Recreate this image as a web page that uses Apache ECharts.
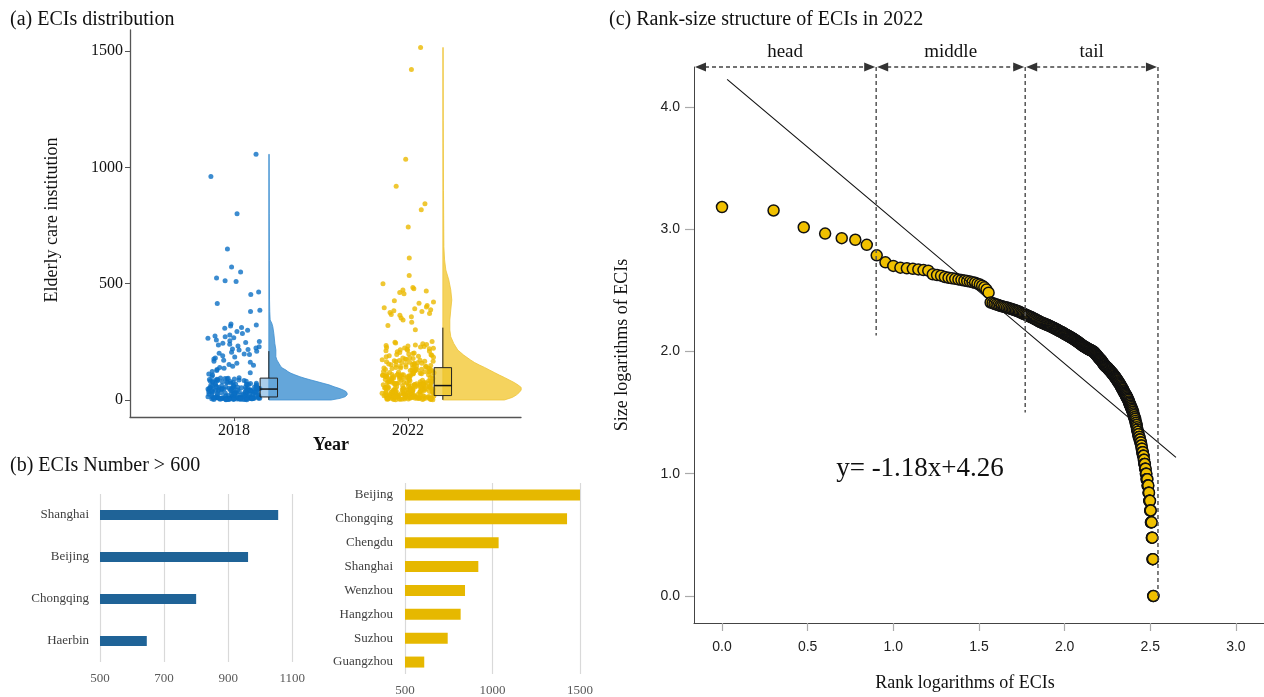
<!DOCTYPE html>
<html><head><meta charset="utf-8">
<script src="https://cdn.jsdelivr.net/npm/echarts@6/dist/echarts.min.js"></script>
<style>html,body{margin:0;padding:0;background:#fff}#c{width:1264px;height:697px}</style>
</head><body><div id="c"></div>
<script>
// ---------------- data ----------------
const years = ['2018', '2022'];
const values2018 = [1056,961,801,649,572,550,524,513,509,464,453,415,386,380,
 327,322,318,312,308,300,294,286,279,275,272,268,265,258,255,251,247,244,240,236,232,229,224,219,217,215,210,205,201,198,
 196,190,185,180,176,171,166,162,158,153,149,145,140,136,131,127,122,117,112,107,101,96,
 94,93,92,91,90,89,88,87,86,85,84,83,82,81,80,79,78,77,76,75,74,73,72,71,70,69,68,67,66,65,64,63,62,61,60,59,58,57,
 56,56,55,55,54,54,53,53,52,52,51,51,50,50,49,49,48,48,48,47,47,47,
 46,46,45,45,44,44,43,43,42,42,41,41,40,40,39,39,38,38,37,37,36,36,35,35,34,34,33,33,32,32,31,31,30,30,29,29,28,28,27,27,26,26,25,25,
 24,23,22,22,21,20,19,19,18,17,16,16,15,14,14,13,
 13,13,12,12,12,12,11,11,11,11,10,10,10,10,10,9,9,9,9,9,8,8,8,8,8,8,7,7,7,7,7,7,6,6,6,6,6,6,5,5,5,5,5,5,4,4,4,4,4,3,3,3,3,3,2,2,2,2,1,1];
const values2022 = [1515,1420,1035,919,843,818,744,610,535,500,484,478,473,468,462,457,427,421,416,406,
 400,396,392,388,384,380,376,372,368,364,358,352,344,334,320,302,
 251,248,245,242,239,236,234,232,230,228,226,224,222,220,218,216,214,212,209,207,204,202,200,198,
 196,194,192,190,188,186,184,182,180,178,176,174,173,171,170,
 169,167,166,165,164,162,161,160,158,157,156,155,153,152,151,150,148,147,146,145,144,143,142,140,139,138,137,136,
 135,134,133,132,131,130,129,128,127,126,125,124,123,122,121,120,119,118,117,116,115,114,113,112,111,110,
 110,109,108,108,107,106,106,105,104,104,103,103,102,102,101,101,100,100,
 99,98,97,96,95,94,93,92,91,90,89,88,87,86,86,85,84,83,82,81,80,79,78,77,77,76,75,75,74,74,73,73,72,
 71,71,70,70,69,68,68,67,67,66,65,65,64,64,63,62,62,61,61,60,59,59,58,58,57,56,56,55,55,54,53,53,52,52,51,50,50,49,49,48,47,47,46,46,45,45,44,44,43,43,
 42,42,41,41,40,40,39,38,38,37,37,36,36,35,35,34,34,33,33,32,32,31,
 30,30,29,29,28,28,27,26,26,25,25,24,23,23,22,22,21,
 21,20,20,20,19,19,19,18,18,18,17,17,16,
 16,15,15,15,14,14,14,13,13,12,12,12,11,11,11,10,10,
 10,9,9,9,9,8,8,8,8,7,7,7,6,6,6,6,5,5,5,4,4,4,4,3,3,3,2,2,2,1,1];
const boxQ1 = [13, 19];
const boxMedian = [47, 62];
const boxQ3 = [94, 139];
const whiskerHigh = [210, 311];
const whiskerLow = [1, 1];
const violinY2018 = [0,7,14,22,29,36,43,50,57,65,72,79,86,93,100,108,115,122,129,136,143,158,172,186,215,243,286,315,330,344,380,430,600,800,1056];
const violinD2018 = [0.795,0.910,0.974,1,1,0.987,0.949,0.897,0.833,0.769,0.692,0.615,0.538,0.462,0.397,0.333,0.282,0.244,0.218,0.179,0.154,0.128,0.103,0.090,0.090,0.077,0.064,0.051,0.038,0.017,0.012,0.009,0.008,0.006,0.005];
const violinY2022 = [0,11,21,32,43,54,64,75,86,97,107,118,129,140,150,161,172,193,215,243,272,301,344,387,430,473,516,559,602,659,900,1200,1515];
const violinD2022 = [0.785,0.886,0.937,0.975,1,1,0.962,0.911,0.848,0.785,0.722,0.658,0.595,0.532,0.468,0.405,0.354,0.266,0.190,0.139,0.101,0.089,0.089,0.101,0.114,0.101,0.076,0.038,0.022,0.013,0.008,0.005,0.004];
const cities2018 = ['Shanghai', 'Beijing', 'Chongqing', 'Haerbin'];
const counts2018 = [1056, 962, 800, 646];
const cities2022 = ['Beijing', 'Chongqing', 'Chengdu', 'Shanghai', 'Wenzhou', 'Hangzhou', 'Suzhou', 'Guangzhou'];
const counts2022 = [1524, 1426, 1035, 919, 843, 818, 744, 610];
const ticksA = [0, 500, 1000, 1500];
const ticksCx = [0, 0.5, 1, 1.5, 2, 2.5, 3];
const ticksCy = [0, 1, 2, 3, 4];
const fitSlope = -1.18, fitIntercept = 4.26;
const fitXRange = [0.03, 2.65];
const segmentNames = ['head', 'middle', 'tail'];
const segmentEdges = [0.9, 1.77, 2.545];
const dividerBottoms = [2.13, 1.50, -0.03];

// ---------------- layout / style ----------------
const SERIF = "'Liberation Serif','Times New Roman',serif";
const SANS = "'Liberation Sans',Arial,sans-serif";
const xCenters = [1, 2];
const sideOffset = 0.2, jitterHalf = 0.15, violinWidth = 0.45, boxHalf = 0.05;
const xMinA = 0.4023, xMaxA = 2.649, yMinA = -73.1, yMaxA = 1590.3;
const xMinC = -0.1635, xMaxC = 3.164, yMinC = -0.2208, yMaxC = 4.3254;
const stripColors = ['#0b6fc4', '#ebb900'];
const violinFills = ['#64a6da', '#f5d35e'];
const violinStrokes = ['#3f8fd0', '#eec43a'];
const boxFills = ['rgba(100,166,218,0.55)', 'rgba(238,196,40,0.7)'];

// horizontal jitter position only (deterministic hash), values stay as read
function jitter(i, k) {
  const s = Math.sin((i + 1) * 12.9898 + k * 78.233) * 43758.5453;
  return s - Math.floor(s);
}
function stripData(vals, k) {
  return vals.map((v, i) => [xCenters[k] + (jitter(i, k) - 0.5) * 2 * jitterHalf, v]);
}
function violinSeries(yArr, dArr, k) {
  return {
    type: 'custom', xAxisIndex: 0, yAxisIndex: 0, z: 3, silent: true,
    data: [[xCenters[k], 0]],
    renderItem(params, api) {
      const base = xCenters[k] + sideOffset;
      const pts = yArr.map((y, i) => api.coord([base + dArr[i] * violinWidth, y]));
      pts.push(api.coord([base, yArr[yArr.length - 1]]));
      pts.push(api.coord([base, yArr[0]]));
      return { type: 'polygon', shape: { points: pts }, style: { fill: violinFills[k], stroke: violinStrokes[k], lineWidth: 0.8 } };
    }
  };
}
const plain = v => String(v);

const chart = echarts.init(document.getElementById('c'), null, { renderer: 'canvas' });
const axisLineDark = { show: true, onZero: false, lineStyle: { color: '#555', width: 1.3 } };

chart.setOption({
  animation: false,
  backgroundColor: '#fff',
  grid: [
    { left: 130, top: 30, width: 391, height: 387 },
    { left: 100, top: 494, width: 192.3, height: 168 },
    { left: 405, top: 483, width: 175, height: 192 },
    { left: 694, top: 67, width: 570, height: 556 }
  ],
  xAxis: [
    { gridIndex: 0, type: 'value', min: xMinA, max: xMaxA, axisLine: axisLineDark,
      axisTick: { show: true, length: 4, customValues: xCenters, lineStyle: { color: '#555' } },
      axisLabel: { customValues: xCenters, formatter: v => years[xCenters.indexOf(v)], fontFamily: SERIF, fontSize: 16, color: '#111', margin: 6 },
      splitLine: { show: false } },
    { gridIndex: 1, type: 'value', min: 500, max: 1100, interval: 200,
      axisLine: { show: false, onZero: false }, axisTick: { show: false },
      axisLabel: { formatter: plain, fontFamily: SERIF, fontSize: 13, color: '#595959', margin: 10 },
      splitLine: { show: true, lineStyle: { color: '#d9d9d9', width: 1.2 } } },
    { gridIndex: 2, type: 'value', min: 500, max: 1500, interval: 500,
      axisLine: { show: false, onZero: false }, axisTick: { show: false },
      axisLabel: { formatter: plain, fontFamily: SERIF, fontSize: 13, color: '#595959', margin: 10 },
      splitLine: { show: true, lineStyle: { color: '#d9d9d9', width: 1.2 } } },
    { gridIndex: 3, type: 'value', min: xMinC, max: xMaxC,
      axisLine: { show: true, onZero: false, lineStyle: { color: '#444', width: 1 } },
      axisTick: { show: true, length: 8, customValues: ticksCx, lineStyle: { color: '#aaa', width: 1.2 } },
      axisLabel: { customValues: ticksCx, formatter: v => v.toFixed(1), fontFamily: SANS, fontSize: 14, color: '#222', margin: 17 },
      splitLine: { show: false } }
  ],
  yAxis: [
    { gridIndex: 0, type: 'value', min: yMinA, max: yMaxA, axisLine: axisLineDark,
      axisTick: { show: true, length: 5, customValues: ticksA, lineStyle: { color: '#555' } },
      axisLabel: { customValues: ticksA, formatter: plain, fontFamily: SERIF, fontSize: 16, color: '#111', margin: 7 },
      splitLine: { show: false } },
    { gridIndex: 1, type: 'category', data: cities2018, inverse: true,
      axisLine: { show: false, onZero: false }, axisTick: { show: false },
      axisLabel: { fontFamily: SERIF, fontSize: 13, color: '#404040', margin: 11 } },
    { gridIndex: 2, type: 'category', data: cities2022, inverse: true,
      axisLine: { show: false, onZero: false }, axisTick: { show: false },
      axisLabel: { fontFamily: SERIF, fontSize: 13, color: '#404040', margin: 12 } },
    { gridIndex: 3, type: 'value', min: yMinC, max: yMaxC,
      axisLine: { show: true, onZero: false, lineStyle: { color: '#444', width: 1 } },
      axisTick: { show: true, length: 9, customValues: ticksCy, lineStyle: { color: '#aaa', width: 1.2 } },
      axisLabel: { customValues: ticksCy, formatter: v => v.toFixed(1), fontFamily: SANS, fontSize: 14, color: '#222', margin: 14 },
      splitLine: { show: false } }
  ],
  series: [
    { type: 'scatter', xAxisIndex: 0, yAxisIndex: 0, data: stripData(values2018, 0), symbolSize: 5,
      itemStyle: { color: stripColors[0] }, silent: true },
    { type: 'scatter', xAxisIndex: 0, yAxisIndex: 0, data: stripData(values2022, 1), symbolSize: 5,
      itemStyle: { color: stripColors[1] }, silent: true },
    violinSeries(violinY2018, violinD2018, 0),
    violinSeries(violinY2022, violinD2022, 1),
    { type: 'custom', xAxisIndex: 0, yAxisIndex: 0, z: 4, silent: true,
      data: years.map((y, k) => [xCenters[k] + sideOffset, boxMedian[k]]),
      renderItem(params, api) {
        const k = params.dataIndex;
        const c = xCenters[k] + sideOffset;
        const tl = api.coord([c - boxHalf, boxQ3[k]]);
        const br = api.coord([c + boxHalf, boxQ1[k]]);
        const m1 = api.coord([c - boxHalf, boxMedian[k]]);
        const m2 = api.coord([c + boxHalf, boxMedian[k]]);
        const wt = api.coord([c, whiskerHigh[k]]);
        const wl = api.coord([c, whiskerLow[k]]);
        const ln = { stroke: '#222', lineWidth: 1 };
        return { type: 'group', children: [
          { type: 'line', shape: { x1: wt[0], y1: wt[1], x2: wt[0], y2: tl[1] }, style: ln },
          { type: 'line', shape: { x1: wl[0], y1: wl[1], x2: wl[0], y2: br[1] }, style: ln },
          { type: 'rect', shape: { x: tl[0], y: tl[1], width: br[0] - tl[0], height: br[1] - tl[1] },
            style: { fill: boxFills[k], stroke: '#222', lineWidth: 1 } },
          { type: 'line', shape: { x1: m1[0], y1: m1[1], x2: m2[0], y2: m2[1] }, style: { stroke: '#111', lineWidth: 1.5 } }
        ] };
      } },
    { type: 'bar', xAxisIndex: 1, yAxisIndex: 1, data: counts2018, barWidth: 10, clip: true,
      itemStyle: { color: '#1f6397' }, silent: true },
    { type: 'bar', xAxisIndex: 2, yAxisIndex: 2, data: counts2022, barWidth: 11, clip: true,
      itemStyle: { color: '#e6b800' }, silent: true },
    { type: 'scatter', xAxisIndex: 3, yAxisIndex: 3, z: 3, silent: true,
      data: values2022.map((v, i) => [Math.log10(i + 1), Math.log10(v)]),
      symbolSize: 11, itemStyle: { color: '#f0c000', borderColor: '#111', borderWidth: 1.5, opacity: 1 } },
    { type: 'line', xAxisIndex: 3, yAxisIndex: 3, z: 4, silent: true, symbol: 'none',
      data: fitXRange.map(x => [x, fitIntercept + fitSlope * x]),
      lineStyle: { color: '#111', width: 1.1 } },
    { type: 'custom', xAxisIndex: 3, yAxisIndex: 3, z: 6, silent: true,
      data: segmentNames.map((n, i) => [segmentEdges[i], yMaxC]),
      renderItem(params, api) {
        const i = params.dataIndex;
        const xStart = i === 0 ? xMinC : segmentEdges[i - 1];
        const xEnd = segmentEdges[i];
        const a = api.coord([xStart, yMaxC]);
        const b = api.coord([xEnd, yMaxC]);
        const bot = api.coord([xEnd, dividerBottoms[i]]);
        const y = a[1], ah = 11, aw = 4.5;
        return { type: 'group', children: [
          { type: 'line', shape: { x1: a[0] + ah, y1: y, x2: b[0] - ah, y2: y }, style: { stroke: '#444', lineWidth: 1.5, lineDash: [4, 3] } },
          { type: 'polygon', shape: { points: [[a[0] + 1, y], [a[0] + 1 + ah, y - aw], [a[0] + 1 + ah, y + aw]] }, style: { fill: '#333' } },
          { type: 'polygon', shape: { points: [[b[0] - 1, y], [b[0] - 1 - ah, y - aw], [b[0] - 1 - ah, y + aw]] }, style: { fill: '#333' } },
          { type: 'line', shape: { x1: b[0], y1: y, x2: b[0], y2: bot[1] }, style: { stroke: '#555', lineWidth: 1.5, lineDash: [4, 3] } },
          { type: 'text', x: (a[0] + b[0]) / 2, y: y - 15,
            style: { text: segmentNames[i], font: '19px ' + SERIF, fill: '#111', align: 'center', verticalAlign: 'middle', textAlign: 'center', textVerticalAlign: 'middle' } }
        ] };
      } }
  ],
  graphic: [
    { type: 'text', x: 10, y: 20, style: { text: '(a) ECIs distribution', font: '20px ' + SERIF, fill: '#111', textVerticalAlign: 'middle' } },
    { type: 'text', x: 10, y: 466, style: { text: '(b) ECIs Number > 600', font: '20px ' + SERIF, fill: '#111', textVerticalAlign: 'middle' } },
    { type: 'text', x: 609, y: 20, style: { text: '(c) Rank-size structure of ECIs in 2022', font: '20px ' + SERIF, fill: '#111', textVerticalAlign: 'middle' } },
    { type: 'text', x: 52, y: 220, rotation: Math.PI / 2, style: { text: 'Elderly care institution', font: '18px ' + SERIF, fill: '#111', textAlign: 'center', textVerticalAlign: 'middle' } },
    { type: 'text', x: 331, y: 445, style: { text: 'Year', font: 'bold 18px ' + SERIF, fill: '#111', textAlign: 'center', textVerticalAlign: 'middle' } },
    { type: 'text', x: 965, y: 683, style: { text: 'Rank logarithms of ECIs', font: '18px ' + SERIF, fill: '#111', textAlign: 'center', textVerticalAlign: 'middle' } },
    { type: 'text', x: 622, y: 345, rotation: Math.PI / 2, style: { text: 'Size logarithms of ECIs', font: '18px ' + SERIF, fill: '#111', textAlign: 'center', textVerticalAlign: 'middle' } },
    { type: 'text', x: 920, y: 469, style: { text: 'y= ' + fitSlope + 'x+' + fitIntercept, font: '27px ' + SERIF, fill: '#111', textAlign: 'center', textVerticalAlign: 'middle' } }
  ]
});
</script></body></html>
